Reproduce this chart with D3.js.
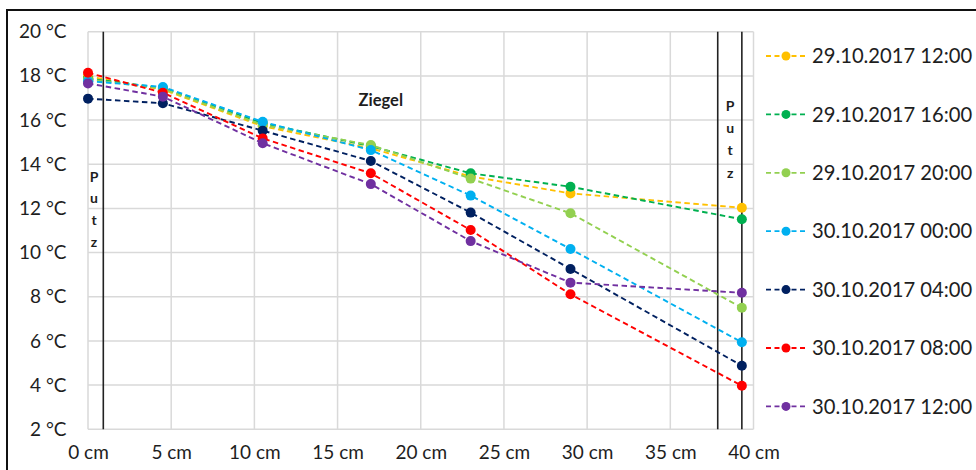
<!DOCTYPE html>
<html>
<head>
<meta charset="utf-8">
<script src="https://cdn.jsdelivr.net/npm/d3@7"></script>
<style>
  html, body { margin: 0; padding: 0; background: #fff; }
  svg { display: block; }
  text { font-family: Lato, "Open Sans", sans-serif; fill: #1e1e1e; }
</style>
</head>
<body>
<svg id="chart" width="976" height="470"></svg>
<script>
// ---- data ----
const positions = [0, 4.5, 10.5, 17, 23, 29, 39.3];   // cm
const seriesNames = [
  "29.10.2017 12:00", "29.10.2017 16:00", "29.10.2017 20:00",
  "30.10.2017 00:00", "30.10.2017 04:00", "30.10.2017 08:00", "30.10.2017 12:00"
];
const seriesColors = ["#FFC000", "#00B050", "#92D050", "#00B0F0", "#002060", "#FF0000", "#7030A0"];
const s1 = [17.98, 17.38, 15.72, 14.72, 13.45, 12.68, 12.03];
const s2 = [17.88, 17.45, 15.86, 14.82, 13.59, 12.98, 11.51];
const s3 = [17.84, 17.42, 15.78, 14.87, 13.35, 11.78, 7.50];
const s4 = [17.76, 17.50, 15.92, 14.64, 12.58, 10.16, 5.94];
const s5 = [16.97, 16.76, 15.52, 14.15, 11.81, 9.26, 4.88];
const s6 = [18.14, 17.24, 15.17, 13.59, 11.02, 8.11, 3.97];
const s7 = [17.66, 17.06, 14.95, 13.10, 10.52, 8.64, 8.18];
const seriesValues = [s1, s2, s3, s4, s5, s6, s7];
const xTicks = [0, 5, 10, 15, 20, 25, 30, 35, 40];
const yTicks = [2, 4, 6, 8, 10, 12, 14, 16, 18, 20];
const layerLines = [0.92, 37.85, 39.3];   // cm, vertical layer boundaries

// ---- layout ----
const svg = d3.select("#chart");
const plot = { left: 88, right: 753.5, top: 31.7, bottom: 429.3 };
const x = d3.scaleLinear().domain([0, 40]).range([plot.left, plot.right]);
const y = d3.scaleLinear().domain([2, 20]).range([plot.bottom, plot.top]);

// outer frame
svg.append("rect").attr("x", 7).attr("y", 10).attr("width", 1000).attr("height", 500)
  .attr("fill", "none").attr("stroke", "#111").attr("stroke-width", 2);

// gridlines
const grid = svg.append("g").attr("stroke", "#d9d9d9").attr("stroke-width", 1.5);
grid.selectAll("line.h").data(yTicks).join("line")
  .attr("x1", plot.left).attr("x2", plot.right)
  .attr("y1", d => y(d)).attr("y2", d => y(d));
grid.selectAll("line.v").data(xTicks).join("line")
  .attr("y1", plot.top).attr("y2", plot.bottom)
  .attr("x1", d => x(d)).attr("x2", d => x(d));

// axes (labels only)
const yAxis = svg.append("g").attr("transform", `translate(${plot.left - 21.5},0)`)
  .call(d3.axisLeft(y).tickValues(yTicks).tickSize(0).tickPadding(0).tickFormat(d => d + " °C"));
yAxis.select(".domain").remove();
yAxis.selectAll("text").style("font-size", "19px").style("font-family", "Lato, sans-serif").attr("fill", "#1e1e1e");

const xAxis = svg.append("g").attr("transform", `translate(0,${plot.bottom + 16})`)
  .call(d3.axisBottom(x).tickValues(xTicks).tickSize(0).tickPadding(0).tickFormat(d => d + " cm"));
xAxis.select(".domain").remove();
xAxis.selectAll("text").style("font-size", "19px").style("font-family", "Lato, sans-serif").attr("fill", "#1e1e1e");

// layer boundary lines
svg.append("g").selectAll("line").data(layerLines).join("line")
  .attr("x1", d => x(d)).attr("x2", d => x(d))
  .attr("y1", plot.top).attr("y2", plot.bottom)
  .attr("stroke", "#222").attr("stroke-width", 1.6);

// layer labels
const putzLetters = ["P", "u", "t", "z"];
svg.append("g").selectAll("text").data(putzLetters).join("text")
  .attr("x", x(0.36)).attr("y", (d, i) => 181.5 + i * 21.7)
  .attr("text-anchor", "middle").style("font-size", "14px").style("font-weight", "bold")
  .text(d => d);
svg.append("g").selectAll("text").data(putzLetters).join("text")
  .attr("x", x(38.6)).attr("y", (d, i) => 111 + i * 22.2)
  .attr("text-anchor", "middle").style("font-size", "14px").style("font-weight", "bold")
  .text(d => d);
svg.append("text").attr("x", x(17.6)).attr("y", 106)
  .attr("text-anchor", "middle").style("font-size", "16.5px").style("font-weight", "bold")
  .text("Ziegel");

// series
const line = d3.line().x((d, i) => x(positions[i])).y(d => y(d));
seriesValues.forEach((vals, si) => {
  const g = svg.append("g");
  g.append("path").datum(vals).attr("d", line)
    .attr("fill", "none").attr("stroke", seriesColors[si])
    .attr("stroke-width", 1.9).attr("stroke-dasharray", "5.5,3.5");
  g.selectAll("circle").data(vals).join("circle")
    .attr("cx", (d, i) => x(positions[i])).attr("cy", d => y(d))
    .attr("r", 5).attr("fill", seriesColors[si]);
});

// legend
const legend = svg.append("g");
seriesNames.forEach((name, i) => {
  const cy = 56 + i * 58.4;
  const g = legend.append("g");
  g.append("line").attr("x1", 766).attr("x2", 805).attr("y1", cy).attr("y2", cy)
    .attr("stroke", seriesColors[i]).attr("stroke-width", 1.8).attr("stroke-dasharray", "5,3.5");
  g.append("circle").attr("cx", 786).attr("cy", cy).attr("r", 4.5).attr("fill", seriesColors[i]);
  g.append("text").attr("x", 812).attr("y", cy).attr("dy", "0.36em")
    .style("font-size", "20.2px").text(name);
});
</script>
</body>
</html>
